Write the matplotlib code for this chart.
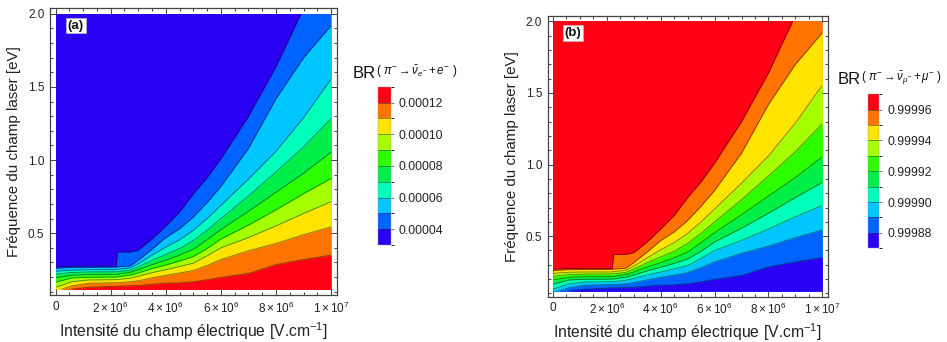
import numpy as np
import matplotlib
matplotlib.use("Agg")
import matplotlib.pyplot as plt
from matplotlib.colors import ListedColormap, BoundaryNorm
from matplotlib.cm import ScalarMappable
from matplotlib.patches import Rectangle
from matplotlib.ticker import MultipleLocator, FixedLocator, FixedFormatter

plt.rcParams['font.family'] = ['Liberation Sans', 'DejaVu Sans']
plt.rcParams['mathtext.fontset'] = 'custom'
plt.rcParams['mathtext.rm'] = 'Liberation Sans'
plt.rcParams['mathtext.it'] = 'Liberation Sans:italic'
plt.rcParams['mathtext.bf'] = 'Liberation Sans:bold'

# intensité du champ (V/cm) où les lignes de niveau ont été relevées
field = np.array([0, 0.6, 1.2, 2.2, 2.25, 2.7, 3, 3.5, 4, 4.5, 5, 5.5, 6, 7, 8, 9, 10]) * 1e6

# fréquence (eV) de chaque ligne de niveau BR(e) = 4e-5 ... 12e-5
iso_04 = [0.270, 0.274, 0.275, 0.275, 0.372, 0.372, 0.385, 0.46, 0.55, 0.645, 0.77, 0.88, 1.01, 1.30, 1.64, 2.04, 2.45]
iso_05 = [0.260, 0.266, 0.267, 0.268, 0.270, 0.276, 0.315, 0.39, 0.47, 0.53, 0.61, 0.71, 0.82, 1.08, 1.42, 1.70, 1.92]
iso_06 = [0.240, 0.248, 0.250, 0.250, 0.252, 0.262, 0.290, 0.35, 0.405, 0.455, 0.52, 0.60, 0.69, 0.87, 1.06, 1.29, 1.555]
iso_07 = [0.220, 0.232, 0.235, 0.236, 0.237, 0.247, 0.270, 0.315, 0.355, 0.395, 0.45, 0.52, 0.60, 0.755, 0.92, 1.09, 1.285]
iso_08 = [0.195, 0.213, 0.217, 0.218, 0.219, 0.232, 0.250, 0.285, 0.315, 0.35, 0.39, 0.455, 0.525, 0.65, 0.78, 0.91, 1.055]
iso_09 = [0.165, 0.194, 0.199, 0.200, 0.201, 0.213, 0.228, 0.258, 0.282, 0.31, 0.34, 0.395, 0.46, 0.555, 0.66, 0.77, 0.875]
iso_10 = [0.130, 0.168, 0.180, 0.182, 0.183, 0.192, 0.205, 0.23, 0.25, 0.272, 0.295, 0.345, 0.40, 0.47, 0.55, 0.635, 0.715]
iso_11 = [0.105, 0.140, 0.158, 0.162, 0.162, 0.168, 0.175, 0.195, 0.212, 0.228, 0.245, 0.28, 0.32, 0.38, 0.43, 0.49, 0.543]
iso_12 = [0.090, 0.118, 0.130, 0.138, 0.138, 0.140, 0.143, 0.15, 0.158, 0.16, 0.168, 0.182, 0.198, 0.225, 0.285, 0.32, 0.35]
iso_lines = [iso_04, iso_05, iso_06, iso_07, iso_08, iso_09, iso_10, iso_11, iso_12]

br_e_levels = [3e-5, 4e-5, 5e-5, 6e-5, 7e-5, 8e-5, 9e-5, 10e-5, 11e-5, 12e-5, 13e-5]
br_e_ticks = [4e-5, 6e-5, 8e-5, 10e-5, 12e-5]
# BR(mu) = 1 - BR(e)
br_mu_levels = list(np.round(1 - np.array(br_e_levels[::-1]), 5))
br_mu_ticks = list(np.round(1 - np.array(br_e_ticks[::-1]), 5))

field_min, field_max = 0, 1e7
freq_min, freq_max = 0.115, 2.0

x_ticks = [0, 2e6, 4e6, 6e6, 8e6, 1e7]
x_labels = ['0', r'$2\times10^{6}$', r'$4\times10^{6}$', r'$6\times10^{6}$',
            r'$8\times10^{6}$', r'$1\times10^{7}$']

band_colors = ['#2a00f5', '#0062ff', '#00c6ff', '#00ffbb', '#00ee48',
               '#2cff00', '#a6ff00', '#ffe400', '#ff7300', '#ff0014']
cmap = ListedColormap(band_colors)
txt = '#222222'


def draw_panel(ax, colors_top_down, tag):
    clip = Rectangle((field_min, freq_min), field_max - field_min, freq_max - freq_min,
                     transform=ax.transData)
    bg = ax.fill_between([field_min, field_max], freq_min, freq_max,
                         color=colors_top_down[0], lw=0)
    bg.set_clip_path(clip)
    for k, iso in enumerate(iso_lines):
        f = ax.fill_between(field, freq_min, iso, color=colors_top_down[k + 1], lw=0)
        f.set_clip_path(clip)
    for iso in iso_lines:
        ln, = ax.plot(field, iso, color='k', lw=0.6, alpha=0.5)
        ln.set_clip_path(clip)

    pad_x = 0.02 * (field_max - field_min)
    pad_y = 0.02 * (freq_max - freq_min)
    ax.set_xlim(field_min - pad_x, field_max + pad_x)
    ax.set_ylim(freq_min - pad_y, freq_max + pad_y)
    ax.xaxis.set_major_locator(FixedLocator(x_ticks))
    ax.xaxis.set_major_formatter(FixedFormatter(x_labels))
    ax.xaxis.set_minor_locator(MultipleLocator(0.5e6))
    ax.yaxis.set_major_locator(MultipleLocator(0.5))
    ax.yaxis.set_minor_locator(MultipleLocator(0.1))
    ax.tick_params(which='both', direction='in', top=True, right=True,
                   color='#444444', labelsize=8.5, labelcolor=txt, width=0.7)
    ax.tick_params(which='major', length=4, pad=4)
    ax.tick_params(which='minor', length=2)
    for s in ax.spines.values():
        s.set_color('#444444')
        s.set_linewidth(0.9)
    ax.set_xlabel('Intensité du champ électrique [V.cm$^{-1}$]', fontsize=11.3,
                  color=txt, labelpad=3)
    ax.set_ylabel('Fréquence du champ laser [eV]', fontsize=10.9, color=txt, labelpad=5)
    ax.text(0.09, 0.94, tag, transform=ax.transAxes, fontsize=9.5, fontweight='bold',
            ha='center', va='center', color='#111111',
            bbox=dict(facecolor='white', edgecolor='#bbbbbb', lw=0.5, pad=1.2))


def draw_bar(cax, levels, ticks):
    norm = BoundaryNorm(levels, cmap.N)
    cb = plt.colorbar(ScalarMappable(norm=norm, cmap=cmap), cax=cax,
                      ticks=ticks, drawedges=True, format='%.5f')
    cb.outline.set_linewidth(0.3)
    cb.outline.set_edgecolor('#999999')
    cb.dividers.set_color('#333333')
    cb.dividers.set_linewidth(0.6)
    cb.dividers.set_alpha(0.6)
    cax.tick_params(length=2.5, width=0.6, color='#666666', labelsize=8.8,
                    labelcolor=txt, pad=3)
    return cb


fig = plt.figure(figsize=(9.47, 3.42), dpi=100)
ax_a = fig.add_axes([0.0528, 0.1374, 0.3027, 0.8383])
ax_b = fig.add_axes([0.5783, 0.1325, 0.2957, 0.8208])
cax_a = fig.add_axes([0.3995, 0.2836, 0.0131, 0.4629])
cax_b = fig.add_axes([0.9171, 0.2740, 0.0116, 0.4503])

# (a) : BR(e) faible en haut à gauche (violet) ; (b) : couleurs inversées
draw_panel(ax_a, band_colors, '(a)')
draw_panel(ax_b, band_colors[::-1], '(b)')
draw_bar(cax_a, br_e_levels, br_e_ticks)
draw_bar(cax_b, br_mu_levels, br_mu_ticks)

fig.text(353 / 947, 1 - 73 / 342, 'BR', fontsize=12, va='center', color='#111111')
fig.text(376 / 947, 1 - 72 / 342, r'$(\ \pi^{-}\rightarrow\bar{\nu}_{e^{-}}+e^{-}\ )$',
         fontsize=8.3, va='center', color='#111111')
fig.text(838 / 947, 1 - 79 / 342, 'BR', fontsize=12, va='center', color='#111111')
fig.text(861 / 947, 1 - 78 / 342, r'$(\ \pi^{-}\rightarrow\bar{\nu}_{\mu^{-}}+\mu^{-}\ )$',
         fontsize=8.3, va='center', color='#111111')

fig.savefig('out.png', dpi=100)
